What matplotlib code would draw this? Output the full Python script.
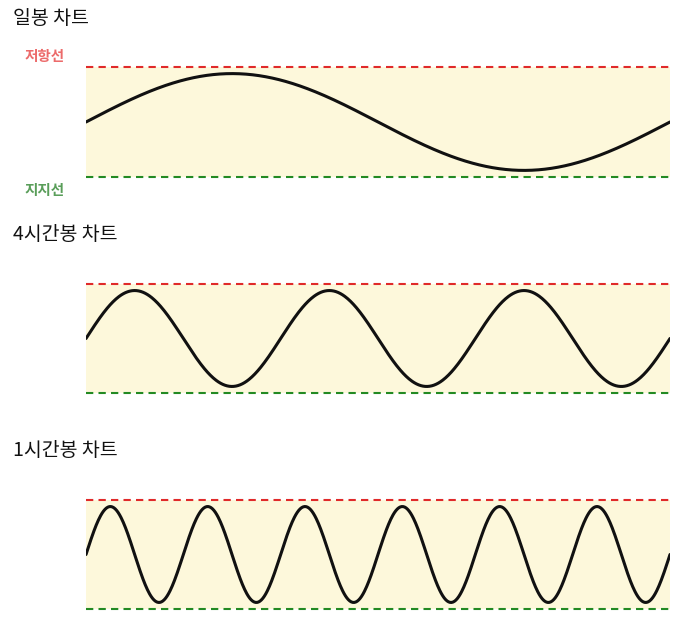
import numpy as np
import matplotlib
matplotlib.use('Agg')
from matplotlib import pyplot as plt

plt.rcParams['font.family'] = ['Noto Sans CJK KR', 'DejaVu Sans']

titles = ['일봉 차트', '4시간봉 차트', '1시간봉 차트']
cycles = [1, 3, 6]          # full waves across the band
amplitude = 0.88            # share of the band half-height
resist_label = '저항선'
support_label = '지지선'

W, H = 700, 638
fig = plt.figure(figsize=(W / 100, H / 100), dpi=100)

# pixel positions of the red / green lines and titles
red_px = [67, 284, 500]
green_px = [177, 393, 609]
title_px = [18, 235, 451]
x0, x1 = 86, 670
pad = 12

for i in range(3):
    top = red_px[i] - pad
    bot = green_px[i] + pad
    ax = fig.add_axes([x0 / W, 1 - bot / H, (x1 - x0) / W, (bot - top) / H])
    half = (green_px[i] - red_px[i]) / 2
    lim = (half + pad) / half
    ax.set_xlim(0, 1)
    ax.set_ylim(-lim, lim)
    ax.axis('off')

    ax.fill_between([0, 1], -1, 1, color='#fdf8db', lw=0)
    ax.axhline(1, color='#e02a2a', lw=1.5, ls=(0, (3.5, 2.5)))
    ax.axhline(-1, color='#238a23', lw=1.5, ls=(0, (3.5, 2.5)))

    t = np.linspace(0, 1, 800)
    ax.plot(t, amplitude * np.sin(2 * np.pi * cycles[i] * t), color='#111111', lw=2.2,
            solid_capstyle='round')

    fig.text(13 / W, 1 - title_px[i] / H, titles[i], fontsize=14, va='center',
             ha='left', color='#111111')

fig.text(45 / W, 1 - 56 / H, resist_label, fontsize=10.5, fontweight='bold',
         color='#ec6b6b', ha='center', va='center')
fig.text(45 / W, 1 - 190 / H, support_label, fontsize=10.5, fontweight='bold',
         color='#5a9e5a', ha='center', va='center')

fig.savefig('out.png', dpi=100)
